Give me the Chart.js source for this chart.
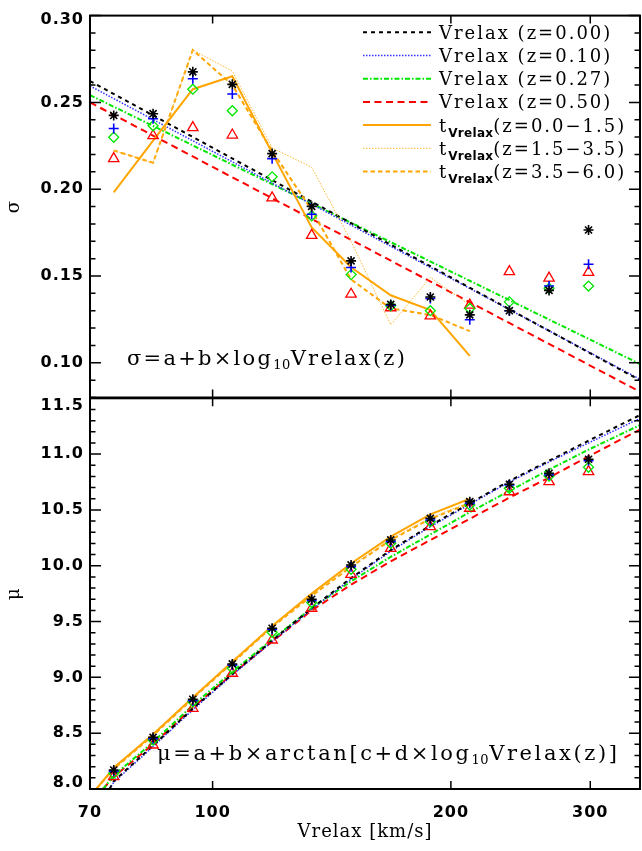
<!DOCTYPE html>
<html><head><meta charset="utf-8">
<script src="https://cdn.jsdelivr.net/npm/chart.js@4/dist/chart.umd.min.js"></script>
<style>
html,body{margin:0;padding:0;background:#fff;}
#wrap{position:relative;width:642px;height:851px;overflow:hidden;}
canvas{position:absolute;left:0;}
#c1{top:0;}
#c2{top:380px;}
</style></head><body>
<div id="wrap">
<canvas id="c1" width="642" height="420" style="width:642px;height:420px"></canvas>
<canvas id="c2" width="642" height="471" style="width:642px;height:471px"></canvas>
</div>
<script>
// ---------------- DATA ----------------
const vBins = [75.0, 84.1, 94.4, 105.9, 118.9, 133.4, 149.6, 167.9, 188.4, 211.3, 237.1, 266.1, 298.5];
const tBins = [75.0, 84.1, 94.4, 105.9, 118.9, 133.4, 149.6, 167.9, 188.4, 211.3];

const xTicks = [70, 100, 200, 300];
const xRange = [70, 346.7];
const sigTicks = [0.10, 0.15, 0.20, 0.25, 0.30];
const sigRange = [0.08, 0.30];
const muTicks = [8.0, 8.5, 9.0, 9.5, 10.0, 10.5, 11.0, 11.5];
const muRange = [8.0, 11.5];

// sigma points
const sigZ000 = [0.2425, 0.2435, 0.2676, 0.2604, 0.2205, 0.1901, 0.1587, 0.1336, 0.1379, 0.1276, 0.1300, 0.1417, 0.1765];
const sigZ010 = [0.2350, 0.2406, 0.2636, 0.2548, 0.2176, 0.1856, 0.1549, 0.1332, 0.1370, 0.1248, 0.1300, 0.1442, 0.1568];
const sigZ027 = [0.2299, 0.2365, 0.2576, 0.2452, 0.2071, 0.1847, 0.1508, 0.1328, 0.1300, 0.1313, 0.1351, 0.1430, 0.1442];
const sigZ050 = [0.2176, 0.2308, 0.2355, 0.2312, 0.1950, 0.1734, 0.1395, 0.1317, 0.1270, 0.1332, 0.1525, 0.1488, 0.1521];

// sigma fits (straight in log V): values at the x-range ends
const sigFitV = [70, 346.7];
const sigFit000 = [0.2623, 0.0899];
const sigFit010 = [0.2595, 0.0905];
const sigFit027 = [0.2542, 0.0993];
const sigFit050 = [0.2500, 0.0833];

// sigma, t_Vrelax samples
const sigT0015 = [0.1982, 0.2280, 0.2576, 0.2651, 0.2209, 0.1780, 0.1550, 0.1389, 0.1304, 0.1040];
const sigT1535 = [0.2223, 0.2152, 0.2802, 0.2680, 0.2238, 0.2126, 0.1700, 0.1219, 0.1492, 0.1332];
const sigT3560 = [0.2223, 0.2152, 0.2802, 0.2600, 0.2220, 0.1880, 0.1480, 0.1313, 0.1276, 0.1182];

// mu points
const muZ000 = [8.170, 8.463, 8.804, 9.120, 9.440, 9.700, 10.007, 10.231, 10.425, 10.574, 10.730, 10.828, 10.954];
const muZ010 = [8.160, 8.450, 8.790, 9.110, 9.430, 9.690, 9.992, 10.216, 10.410, 10.559, 10.723, 10.813, 10.941];
const muZ027 = [8.140, 8.439, 8.782, 9.081, 9.404, 9.670, 9.968, 10.201, 10.395, 10.544, 10.694, 10.804, 10.882];
const muZ050 = [8.110, 8.394, 8.723, 9.037, 9.335, 9.619, 9.923, 10.156, 10.350, 10.515, 10.663, 10.753, 10.843];

// mu fit curves
const muFitV000 = [74.1, 75.0, 84.1, 94.4, 105.9, 118.9, 133.4, 149.6, 167.9, 188.4, 211.3, 237.1, 266.1, 298.5, 346.7];
const muFit000 = [8.00, 8.07, 8.39, 8.72, 9.03, 9.33, 9.62, 9.89, 10.14, 10.36, 10.56, 10.76, 10.94, 11.12, 11.35];
const muFitV010 = [74.1, 75.0, 84.1, 94.4, 105.9, 118.9, 133.4, 149.6, 167.9, 188.4, 211.3, 237.1, 266.1, 298.5, 346.7];
const muFit010 = [8.00, 8.06, 8.38, 8.71, 9.02, 9.32, 9.61, 9.88, 10.13, 10.35, 10.55, 10.75, 10.93, 11.10, 11.32];
const muFitV027 = [72.7, 75.0, 84.1, 94.4, 105.9, 118.9, 133.4, 149.6, 167.9, 188.4, 211.3, 237.1, 266.1, 298.5, 346.7];
const muFit027 = [8.00, 8.12, 8.42, 8.75, 9.05, 9.34, 9.62, 9.86, 10.08, 10.28, 10.48, 10.67, 10.86, 11.04, 11.26];
const muFitV050 = [72.7, 75.0, 84.1, 94.4, 105.9, 118.9, 133.4, 149.6, 167.9, 188.4, 211.3, 237.1, 266.1, 298.5, 346.7];
const muFit050 = [8.00, 8.11, 8.40, 8.73, 9.03, 9.32, 9.60, 9.83, 10.04, 10.23, 10.42, 10.61, 10.79, 10.98, 11.22];

// mu, t_Vrelax curves
const muTV = [71.3, 75.0, 84.1, 94.4, 105.9, 118.9, 133.4, 149.6, 167.9, 188.4, 211.3];
const muT0015 = [8.00, 8.19, 8.49, 8.82, 9.14, 9.46, 9.75, 10.02, 10.26, 10.46, 10.60];
const muT1535 = [8.00, 8.18, 8.48, 8.81, 9.13, 9.45, 9.74, 10.00, 10.24, 10.43, 10.57];
const muT3560 = [8.00, 8.18, 8.48, 8.81, 9.13, 9.45, 9.73, 9.99, 10.23, 10.42, 10.56];

// ---------------- STYLES ----------------
const ORANGE = '#ffa500';
const ST = {
  z000: {color:'#000000', width:2, dash:[4,4]},
  z010: {color:'#3333ff', width:1.5, dash:[1.5,1.5]},
  z027: {color:'#00e600', width:2, dash:[5,2,1.5,2]},
  z050: {color:'#ff0000', width:2, dash:[7,4.5]},
  t0015:{color:ORANGE, width:2, dash:[]},
  t1535:{color:'#ffb733', width:1, dash:[1.5,1.5]},
  t3560:{color:ORANGE, width:2, dash:[4.5,3]}
};
const SERIF = '"DejaVu Serif", serif';
const SANS = '"DejaVu Sans", sans-serif';

function pts(xs, ys){ return xs.map((x,i)=>({x:x, y:ys[i]})); }
function lineDS(xs, ys, st){
  return {data: pts(xs, ys), showLine:true, pointRadius:0, borderColor:st.color, borderWidth:st.width,
          borderDash:st.dash, fill:false, tension:0};
}
function markDS(xs, ys, style, color, r, w){
  return {data: pts(xs, ys), showLine:false, pointStyle:style, pointRadius:r, pointBorderColor:color,
          pointBackgroundColor:'rgba(0,0,0,0)', pointBorderWidth:w, borderColor:color};
}

// ---------------- PLUGIN: frame, inward ticks, texts ----------------
const framePlugin = {
  id:'frame',
  afterLayout(chart, args, opts){
    const s = chart.scales.y;
    if (!s || !s.getLabelItems) return;
    const items = s.getLabelItems();
    items.forEach((it, i)=>{
      const tk = s.ticks[i]; if (!tk || !it.options || !it.options.translation) return;
      if (tk.value === s.max) it.options.translation[1] += opts.topShift || 0;
      if (tk.value === s.min) it.options.translation[1] += opts.botShift || 0;
    });
  },
  beforeDraw(chart){ chart.ctx.letterSpacing = '1px'; },
  beforeDatasetsDraw(chart){ chart.ctx.letterSpacing = '0px'; },
  afterDraw(chart, args, opts){
    const ctx = chart.ctx, a = chart.chartArea, xs = chart.scales.x, ys = chart.scales.y;
    ctx.save();
    ctx.strokeStyle = '#000';
    ctx.lineWidth = 2;
    ctx.strokeRect(a.left, a.top, a.right - a.left, a.bottom - a.top);
    ctx.beginPath();
    ctx.lineWidth = 1.5;
    xTicks.forEach(v=>{
      const p = xs.getPixelForValue(v);
      if (p <= a.left + 2 || p >= a.right - 2) return;
      ctx.moveTo(p, a.top); ctx.lineTo(p, a.top + 8);
      ctx.moveTo(p, a.bottom); ctx.lineTo(p, a.bottom - 8);
    });
    opts.yMajor.forEach(v=>{
      const p = ys.getPixelForValue(v);
      ctx.moveTo(a.left, p); ctx.lineTo(a.left + 11, p);
      ctx.moveTo(a.right, p); ctx.lineTo(a.right - 11, p);
    });
    const n = Math.round((ys.max - ys.min) / opts.minorStep);
    for (let i = 0; i <= n; i++){
      const v = ys.min + i * opts.minorStep;
      const p = ys.getPixelForValue(v);
      ctx.moveTo(a.left, p); ctx.lineTo(a.left + 5.5, p);
      ctx.moveTo(a.right, p); ctx.lineTo(a.right - 5.5, p);
    }
    ctx.stroke();
    if (opts.extra) opts.extra(ctx, chart);
    ctx.restore();
  }
};

function drawRich(ctx, x, y, parts){
  let cx = x;
  parts.forEach(p=>{
    ctx.font = p.font;
    ctx.letterSpacing = (p.ls || 0) + 'px';
    ctx.fillText(p.t, cx, y + (p.dy || 0));
    cx += ctx.measureText(p.t).width;
  });
}

const legendItems = [
  {st:ST.z000, parts:[{t:'Vrelax (z=0.00)'}]},
  {st:ST.z010, parts:[{t:'Vrelax (z=0.10)'}]},
  {st:ST.z027, parts:[{t:'Vrelax (z=0.27)'}]},
  {st:ST.z050, parts:[{t:'Vrelax (z=0.50)'}]},
  {st:ST.t0015, parts:[{t:'t'},{t:'Vrelax', sub:true},{t:'(z=0.0\u22121.5)'}]},
  {st:ST.t1535, parts:[{t:'t'},{t:'Vrelax', sub:true},{t:'(z=1.5\u22123.5)'}]},
  {st:ST.t3560, parts:[{t:'t'},{t:'Vrelax', sub:true},{t:'(z=3.5\u22126.0)'}]}
];

function drawLegend(ctx){
  const y0 = 32.3, dy = 23.2;
  legendItems.forEach((it, i)=>{
    const y = y0 + i * dy;
    ctx.save();
    ctx.strokeStyle = it.st.color; ctx.lineWidth = it.st.width; ctx.setLineDash(it.st.dash);
    ctx.beginPath(); ctx.moveTo(363, y); ctx.lineTo(431, y); ctx.stroke();
    ctx.restore();
    ctx.fillStyle = '#000';
    ctx.textBaseline = 'alphabetic';
    drawRich(ctx, 439, y + 6.5, it.parts.map(p => p.sub
      ? {t:p.t, font:'bold 12px ' + SANS, dy:5, ls:0.3}
      : {t:p.t, font:'18px ' + SERIF, ls:2.0}));
  });
}

function drawFormula1(ctx){
  ctx.fillStyle = '#000'; ctx.textBaseline = 'alphabetic';
  drawRich(ctx, 127, 365, [
    {t:'\u03c3=a+b\u00d7log', font:'21px ' + SERIF, ls:2.25},
    {t:'10', font:'13px ' + SERIF, dy:4, ls:0.5},
    {t:'Vrelax(z)', font:'21px ' + SERIF, ls:2.25}
  ]);
}
function drawFormula2(ctx){
  ctx.fillStyle = '#000'; ctx.textBaseline = 'alphabetic';
  drawRich(ctx, 157, 380, [
    {t:'\u03bc=a+b\u00d7arctan[c+d\u00d7log', font:'21px ' + SERIF, ls:2.6},
    {t:'10', font:'13px ' + SERIF, dy:4, ls:0.5},
    {t:'Vrelax(z)]', font:'21px ' + SERIF, ls:2.6}
  ]);
}

// ---------------- CHARTS ----------------
Chart.defaults.font.family = SANS;
Chart.defaults.color = '#000';

const xScaleBase = {
  type:'logarithmic', min:xRange[0], max:xRange[1],
  afterBuildTicks: s => { s.ticks = xTicks.map(v => ({value:v})); },
  grid:{display:false, drawTicks:false}, border:{display:false}
};

const chartTop = new Chart(document.getElementById('c1'), {
  type:'scatter',
  data:{datasets:[
    markDS(vBins, sigZ000, 'star', '#000000', 5, 1.6),
    markDS(vBins, sigZ010, 'cross', '#0000ff', 5, 1.6),
    markDS(vBins, sigZ027, 'rectRot', '#00e600', 5, 1.3),
    markDS(vBins, sigZ050, 'triangle', '#ff0000', 6, 1.3),
    lineDS(tBins, sigT0015, ST.t0015),
    lineDS(tBins, sigT1535, ST.t1535),
    lineDS(tBins, sigT3560, ST.t3560),
    lineDS(sigFitV, sigFit000, ST.z000),
    lineDS(sigFitV, sigFit010, ST.z010),
    lineDS(sigFitV, sigFit027, ST.z027),
    lineDS(sigFitV, sigFit050, ST.z050)
  ]},
  options:{
    responsive:false, animation:false, events:[],
    layout:{autoPadding:false, padding:{left:0, right:2, top:8.3, bottom:22.5}},
    plugins:{legend:{display:false}, tooltip:{enabled:false},
      frame:{yMajor:sigTicks, minorStep:0.01, topShift:4, botShift:0,
             extra:(ctx)=>{ drawLegend(ctx); drawFormula1(ctx); }}},
    scales:{
      x: Object.assign({}, xScaleBase, {display:false}),
      y:{type:'linear', min:sigRange[0], max:sigRange[1],
        afterBuildTicks: s => { s.ticks = sigTicks.map(v => ({value:v})); },
        afterFit: s => { s.width = 90; },
        ticks:{font:{family:SANS, size:16, weight:'bold'}, padding:6, callback:v => v.toFixed(2)},
        grid:{display:false, drawTicks:false}, border:{display:false},
        title:{display:true, text:'\u03c3', font:{family:SERIF, size:18}, padding:{top:4, bottom:0}}
      }
    }
  },
  plugins:[framePlugin]
});

const chartBot = new Chart(document.getElementById('c2'), {
  type:'scatter',
  data:{datasets:[
    markDS(vBins, muZ000, 'star', '#000000', 5, 1.6),
    markDS(vBins, muZ010, 'cross', '#0000ff', 5, 1.6),
    markDS(vBins, muZ027, 'rectRot', '#00e600', 5, 1.3),
    markDS(vBins, muZ050, 'triangle', '#ff0000', 6, 1.3),
    lineDS(muTV, muT0015, ST.t0015),
    lineDS(muTV, muT1535, ST.t1535),
    lineDS(muTV, muT3560, ST.t3560),
    lineDS(muFitV000, muFit000, ST.z000),
    lineDS(muFitV010, muFit010, ST.z010),
    lineDS(muFitV027, muFit027, ST.z027),
    lineDS(muFitV050, muFit050, ST.z050)
  ]},
  options:{
    responsive:false, animation:false, events:[],
    layout:{autoPadding:false, padding:{left:0, right:2, top:18.3, bottom:0}},
    plugins:{legend:{display:false}, tooltip:{enabled:false},
      frame:{yMajor:muTicks, minorStep:0.1, topShift:8, botShift:-6,
             extra:(ctx)=>{ drawFormula2(ctx); }}},
    scales:{
      x: Object.assign({}, xScaleBase, {
        display:true,
        afterFit: s => { s.height = 62; },
        ticks:{font:{family:SANS, size:16, weight:'bold'}, padding:14, callback:v => String(v), autoSkip:false, maxRotation:0},
        title:{display:true, text:'Vrelax [km/s]', font:{family:SERIF, size:18}, padding:{top:0, bottom:8}}
      }),
      y:{type:'linear', min:muRange[0], max:muRange[1],
        afterBuildTicks: s => { s.ticks = muTicks.map(v => ({value:v})); },
        afterFit: s => { s.width = 90; },
        ticks:{font:{family:SANS, size:16, weight:'bold'}, padding:6, callback:v => v.toFixed(1)},
        grid:{display:false, drawTicks:false}, border:{display:false},
        title:{display:true, text:'\u03bc', font:{family:SERIF, size:18}, padding:{top:4, bottom:0}}
      }
    }
  },
  plugins:[framePlugin]
});
</script>
</body></html>
